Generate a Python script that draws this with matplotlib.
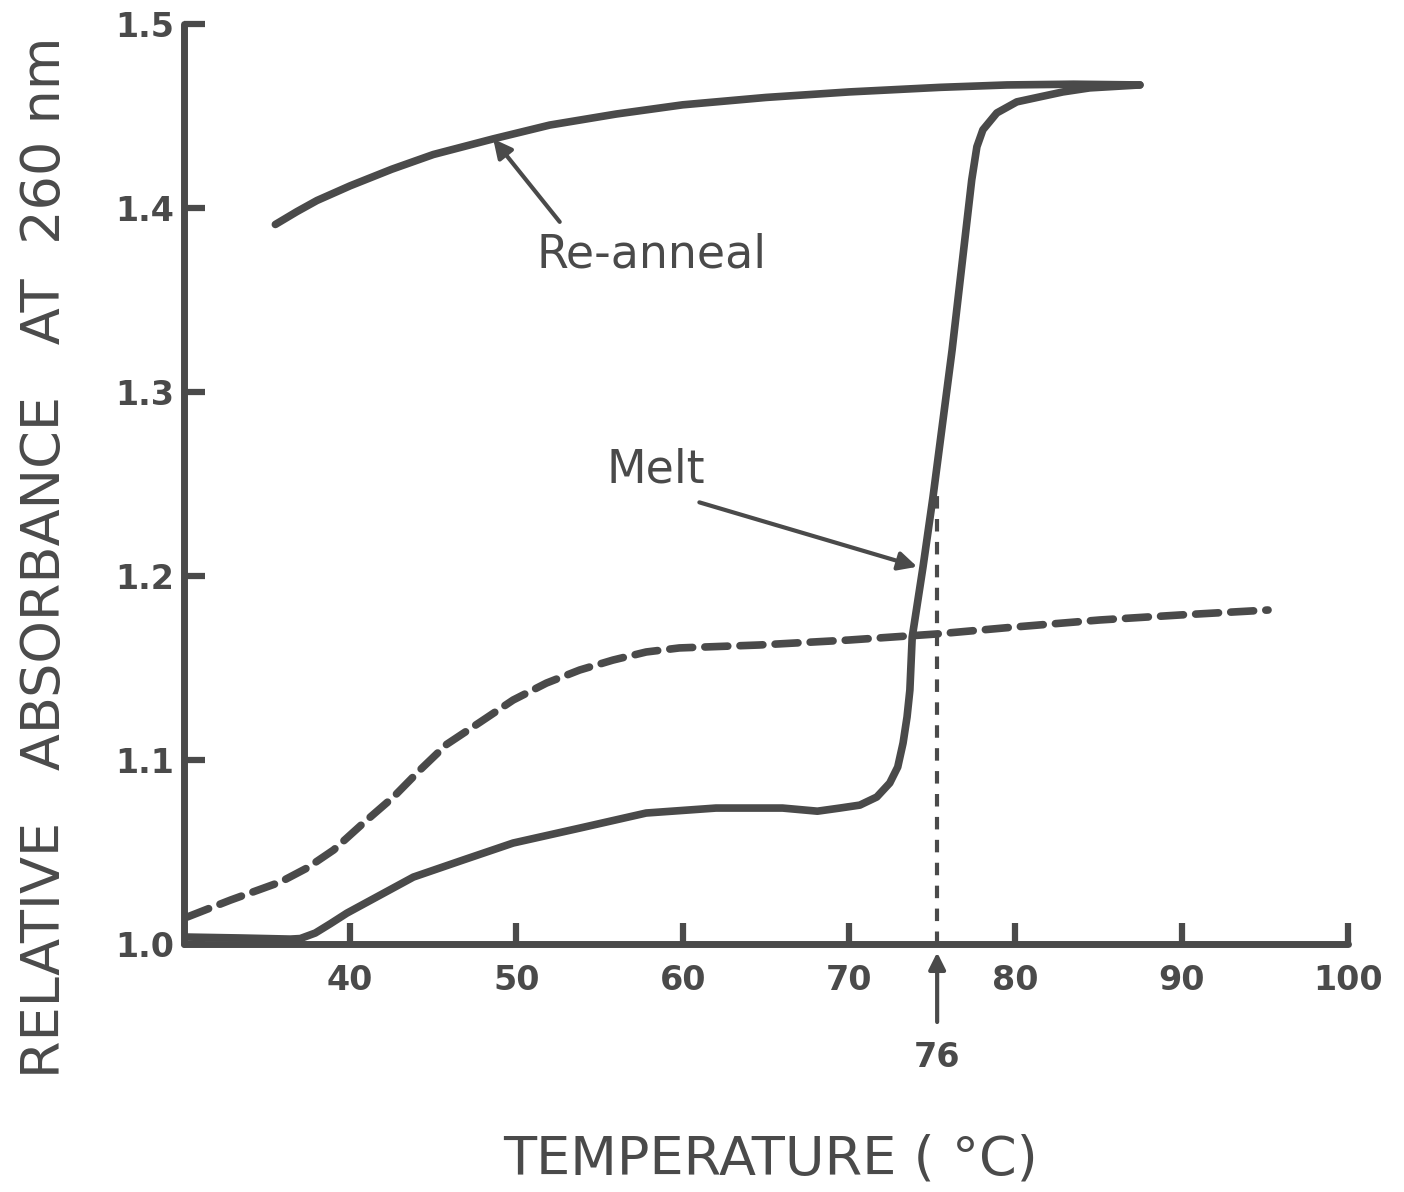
import matplotlib
matplotlib.use("Agg")
import matplotlib.pyplot as plt

# --- Data ---
# melt curve (solid, lower -> sharp transition)
melt_temp = [30.2, 33.4, 36.4, 37.0, 37.9, 38.8, 39.8, 43.8, 46.8, 49.8, 53.8, 57.8,
             62.0, 66.0, 68.1, 69.45, 70.65, 71.67, 72.45, 72.93, 73.25, 73.49, 73.66,
             73.8, 74.45, 75.05, 76.2, 77.38, 77.69, 78.05, 78.89, 80.09, 81.47, 82.86,
             84.48, 87.49]
melt_abs = [1.0038, 1.0033, 1.0027, 1.0030, 1.0060, 1.0110, 1.0168, 1.0364, 1.0457,
            1.0549, 1.0630, 1.0712, 1.0739, 1.0739, 1.0722, 1.0739, 1.0755, 1.0799,
            1.0875, 1.0962, 1.1092, 1.1234, 1.1380, 1.1668, 1.2049, 1.2429, 1.3228,
            1.4152, 1.4332, 1.4424, 1.4516, 1.4576, 1.4603, 1.4630, 1.4652, 1.4668]

# re-anneal curve (solid, upper)
anneal_temp = [35.5, 36.8, 38.0, 40.0, 42.5, 45.0, 48.6, 52.0, 56.0, 60.0, 65.0, 70.0,
               75.5, 79.5, 83.5, 87.5]
anneal_abs = [1.391, 1.398, 1.404, 1.412, 1.421, 1.429, 1.4375, 1.445, 1.451, 1.456,
              1.460, 1.463, 1.4655, 1.4668, 1.4672, 1.4668]

# dashed curve
dash_temp = [30.2, 32.8, 35.8, 37.4, 39.0, 40.8, 42.6, 44.2, 45.8, 47.8, 49.8, 51.8,
             53.8, 55.8, 57.8, 59.8, 64.6, 70.0, 75.3, 80.0, 85.1, 89.9, 95.2]
dash_abs = [1.0147, 1.0239, 1.0337, 1.0413, 1.0511, 1.0658, 1.0799, 1.0946, 1.1085,
            1.1205, 1.1326, 1.1418, 1.1489, 1.1543, 1.1587, 1.1609, 1.1625, 1.1652,
            1.1685, 1.1723, 1.1761, 1.1788, 1.1815]

tm = 75.3          # where the dotted marker line is drawn
tm_top = 1.245
tm_label = "76"

x_ticks = [40, 50, 60, 70, 80, 90, 100]
y_ticks = [1.0, 1.1, 1.2, 1.3, 1.4, 1.5]
y_labels = ["1.0", "1.1", "1.2", "1.3", "1.4", "1.5"]

ink = "#4a4a4a"
plt.rcParams["font.family"] = ["DejaVu Sans"]

fig = plt.figure(figsize=(14.04, 11.92), dpi=100)
ax = fig.add_axes([0.131, 0.208, 0.829, 0.772])

line_kw = dict(color=ink, lw=5.5, solid_capstyle="round", solid_joinstyle="round",
               clip_on=False)
ax.plot(melt_temp, melt_abs, **line_kw)
ax.plot(anneal_temp, anneal_abs, **line_kw)
ax.plot(dash_temp, dash_abs, color=ink, lw=5.5, linestyle=(0, (3, 1.6)),
        dash_capstyle="round", clip_on=False)
ax.plot([tm, tm], [1.0, tm_top], color=ink, lw=3, linestyle=(0, (3, 2.5)))

# annotations
arrow_kw = dict(arrowstyle="-|>", color=ink, lw=3, mutation_scale=28,
                shrinkA=0, shrinkB=0)
ax.text(58.1, 1.3745, "Re-anneal", ha="center", va="center", fontsize=33, color=ink)
ax.annotate("", xy=(48.6, 1.4375), xytext=(52.6, 1.3924), arrowprops=arrow_kw)
ax.text(58.4, 1.2576, "Melt", ha="center", va="center", fontsize=33, color=ink)
ax.annotate("", xy=(74.1, 1.205), xytext=(61.0, 1.240), arrowprops=arrow_kw)
ax.annotate(tm_label, xy=(tm, 1.0), xycoords="data",
            xytext=(0, -82), textcoords="offset points",
            ha="center", va="center", fontsize=24, fontweight="bold", color=ink,
            arrowprops=dict(arrowstyle="-|>", color=ink, lw=3, mutation_scale=25,
                            shrinkA=12, shrinkB=6),
            annotation_clip=False)

ax.set_xlim(30, 100)
ax.set_ylim(1.0, 1.5)
ax.set_xticks(x_ticks)
ax.set_yticks(y_ticks)
ax.set_yticklabels(y_labels)
for s in ["top", "right"]:
    ax.spines[s].set_visible(False)
for s in ["left", "bottom"]:
    ax.spines[s].set_linewidth(5)
    ax.spines[s].set_color(ink)
    ax.spines[s].set_capstyle("round")
ax.tick_params(direction="in", length=15, width=4.5, color=ink, labelcolor=ink,
               labelsize=24)
ax.tick_params(axis="x", pad=14)
ax.tick_params(axis="y", pad=7)
for lab in ax.get_xticklabels() + ax.get_yticklabels():
    lab.set_fontweight("bold")

fig.text(0.032, 0.5325, "RELATIVE   ABSORBANCE   AT  260 nm", rotation=90,
         ha="center", va="center", fontsize=39, color=ink)
fig.text(0.549, 0.027, "TEMPERATURE ( °C)", ha="center", va="center",
         fontsize=39, color=ink)

fig.savefig("out.png", dpi=100, facecolor="white")
